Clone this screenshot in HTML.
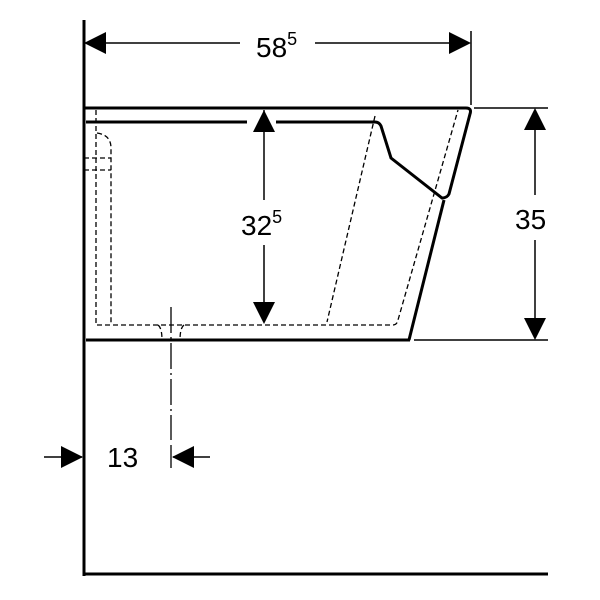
<!DOCTYPE html>
<html><head><style>html,body{margin:0;padding:0;background:#fff}svg{display:block}text{font-family:"Liberation Sans",sans-serif;fill:#000}</style></head>
<body>
<svg width="600" height="600" viewBox="0 0 600 600" xmlns="http://www.w3.org/2000/svg">
<g stroke="#000" fill="none">
<line x1="84" y1="20" x2="84" y2="576" stroke-width="3"/>
<line x1="83" y1="574" x2="548" y2="574" stroke-width="3"/>
<path d="M84 108 H466 Q472 108 470 114 L449 194 Q447 198 442 198 L391 158 L381 126 Q379 122 375 122 H276 M247 122 H86" stroke-width="3"/>
<line x1="86" y1="340" x2="410" y2="340" stroke-width="3"/>
<line x1="409" y1="340" x2="444" y2="200" stroke-width="3"/>
<g stroke-width="1.3" stroke-dasharray="5,3">
<path d="M96 110 V325 H393 Q397 325 398 320 L458 110"/>
<path d="M97 133 Q111 135 111 148 V325"/>
<path d="M84 158 H111 M84 170 H111"/>
<path d="M375 116 L327 322"/>
<path d="M158 325 Q162 328 162 340 M184 325 Q180 328 180 340"/>
</g>
<line x1="171" y1="307" x2="171" y2="440" stroke-width="1.3" stroke-dasharray="26,4,2,4"/>
<line x1="171" y1="445" x2="171" y2="468" stroke-width="1.3"/>
<g stroke-width="1.5">
<line x1="86" y1="43" x2="240" y2="43"/><line x1="315" y1="43" x2="468" y2="43"/>
<line x1="471" y1="31" x2="471" y2="105"/>
<line x1="474" y1="108" x2="548" y2="108"/><line x1="414" y1="340" x2="548" y2="340"/>
<line x1="535" y1="110" x2="535" y2="195"/><line x1="535" y1="240" x2="535" y2="338"/>
<line x1="264" y1="110" x2="264" y2="200"/><line x1="264" y1="245" x2="264" y2="322"/>
<line x1="44" y1="457" x2="82" y2="457"/><line x1="173" y1="457" x2="210" y2="457"/>
</g>
</g>
<g fill="#000">
<polygon points="84,43 106,32 106,54"/>
<polygon points="471,43 449,32 449,54"/>
<polygon points="535,108 524,130 546,130"/>
<polygon points="535,340 524,318 546,318"/>
<polygon points="264,110 253,132 275,132"/>
<polygon points="264,324 253,302 275,302"/>
<polygon points="83,457 61,446 61,468"/>
<polygon points="172,457 194,446 194,468"/>
</g>
<text x="256" y="57" font-size="28">58<tspan font-size="18" dy="-12">5</tspan></text>
<text x="241" y="235" font-size="28">32<tspan font-size="18" dy="-12">5</tspan></text>
<text x="515" y="229" font-size="28">35</text>
<text x="107" y="467" font-size="28">13</text>
</svg>
</body></html>
